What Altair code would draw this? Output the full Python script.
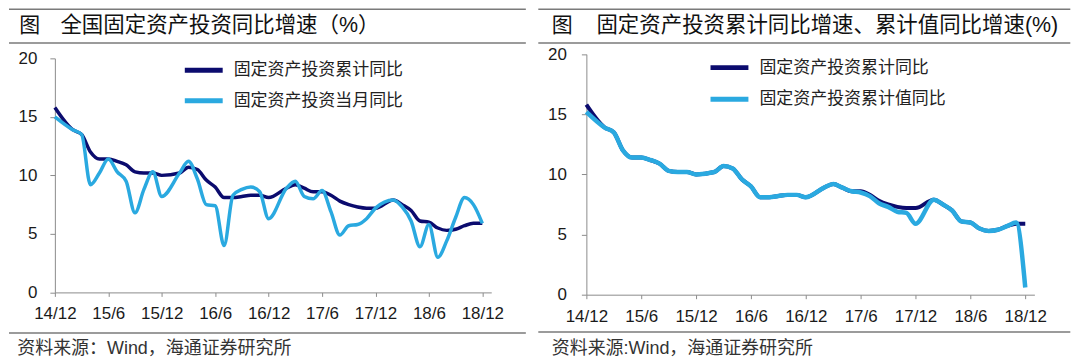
import altair as alt
import pandas as pd

# ---------------- data ----------------
# month index: 0 = 2014/12, 48 = 2018/12 (January is not published)
month_idx = [0,
             2, 3, 4, 5, 6, 7, 8, 9, 10, 11, 12,
             14, 15, 16, 17, 18, 19, 20, 21, 22, 23, 24,
             26, 27, 28, 29, 30, 31, 32, 33, 34, 35, 36,
             38, 39, 40, 41, 42, 43, 44, 45, 46, 47, 48]

cum_yoy = [15.8,
           13.9, 13.5, 12.0, 11.4, 11.4, 11.2, 10.9, 10.3, 10.2, 10.2, 10.0,
           10.2, 10.7, 10.5, 9.6, 9.0, 8.1, 8.1, 8.2, 8.3, 8.3, 8.1,
           8.9, 9.2, 8.9, 8.6, 8.6, 8.3, 7.8, 7.5, 7.3, 7.2, 7.2,
           7.9, 7.5, 7.0, 6.1, 6.0, 5.5, 5.3, 5.4, 5.7, 5.9, 5.9]

month_yoy = [15.0,
             13.9, 13.5, 9.2, 10.2, 11.4, 10.3, 9.5, 6.8, 8.8, 10.3, 8.2,
             10.2, 11.2, 9.7, 7.5, 7.4, 4.0, 8.3, 8.8, 9.0, 8.6, 6.3,
             8.9, 9.5, 8.2, 8.0, 8.7, 6.9, 4.9, 5.7, 5.8, 6.3, 7.2,
             7.9, 7.3, 6.1, 3.9, 5.8, 3.0, 4.4, 6.4, 8.1, 7.5, 5.9]

cumval_yoy = [15.2,
              13.9, 13.5, 12.0, 11.4, 11.4, 11.2, 10.9, 10.3, 10.2, 10.2, 10.0,
              10.2, 10.7, 10.5, 9.6, 9.0, 8.1, 8.1, 8.2, 8.3, 8.3, 8.1,
              8.9, 9.2, 8.9, 8.6, 8.5, 8.2, 7.6, 7.3, 6.9, 6.8, 5.9,
              7.9, 7.5, 7.0, 6.1, 6.0, 5.5, 5.3, 5.4, 5.7, 6.0, 0.6]

tick_values = [0, 6, 12, 18, 24, 30, 36, 42, 48]
tick_labels = ["14/12", "15/6", "15/12", "16/6", "16/12", "17/6", "17/12", "18/6", "18/12"]
y_ticks = [0, 5, 10, 15, 20]

name_cum = "固定资产投资累计同比"
name_month = "固定资产投资当月同比"
name_cumval = "固定资产投资累计值同比"

title_left = "全国固定资产投资同比增速（%）"
title_right = "固定资产投资累计同比增速、累计值同比增速(%)"
fig_label = "图"
source_left = "资料来源：Wind，海通证券研究所"
source_right = "资料来源:Wind，海通证券研究所"

# ---------------- style ----------------
DARK = "#0B0B6E"
LIGHT = "#2AA9E0"
RULE = "#7a7a7a"
AXIS = "#8c8c8c"
CJK = "Noto Sans CJK SC"
LATIN = "Liberation Sans, Noto Sans CJK SC"

label_expr = "[" + ",".join("'%s'" % t for t in tick_labels) + "][round(datum.value/6)]"


def single(text):
    return pd.DataFrame({"t": [text]})


def panel(dark_vals, light_vals, light_name, title, source, W, H, g):
    df_a = pd.DataFrame({"m": month_idx, "v": dark_vals, "s": name_cum})
    df_b = pd.DataFrame({"m": month_idx, "v": light_vals, "s": light_name})

    x = alt.X("m:Q",
              scale=alt.Scale(domain=[0, 49], nice=False, zero=False),
              axis=alt.Axis(values=tick_values, labelExpr=label_expr, title=None,
                            grid=False, tickSize=4, labelPadding=g["xpad"],
                            domainColor=AXIS, tickColor=AXIS, labelFont=LATIN,
                            labelFontSize=17, labelColor="#1a1a1a",
                            labelFlush=False, labelOverlap=False))
    y = alt.Y("v:Q",
              scale=alt.Scale(domain=[0, 20], nice=False, range=[H, g["ytop"]]),
              axis=alt.Axis(values=y_ticks, title=None, grid=False, tickSize=5,
                            labelPadding=g["ypad"], domainColor=AXIS, tickColor=AXIS,
                            labelFont=LATIN, labelFontSize=17, labelColor="#1a1a1a"))
    color = alt.Color("s:N",
                      scale=alt.Scale(domain=[name_cum, light_name], range=[DARK, LIGHT]),
                      legend=alt.Legend(orient="none", legendX=g["lx"], legendY=g["ly"],
                                        title=None, symbolType="M-2,0L2,0", symbolSize=361,
                                        symbolStrokeWidth=5, labelFont=CJK, labelFontSize=17,
                                        labelColor="#222222", labelOffset=18,
                                        rowPadding=g["rowpad"], padding=0, labelLimit=400))

    line_a = alt.Chart(df_a).mark_line(interpolate="monotone", strokeWidth=g["wa"]).encode(
        x=x, y=y, color=color)
    line_b = alt.Chart(df_b).mark_line(interpolate="monotone", strokeWidth=g["wb"]).encode(
        x=x, y=y, color=color)

    def rule(x0, x1, yy):
        return alt.Chart(single("r")).mark_rule(color=RULE, strokeWidth=1.5).encode(
            x=alt.value(x0), x2=alt.value(x1), y=alt.value(yy))

    def txt(text, xx, yy, size, col):
        return alt.Chart(single(text)).mark_text(
            align="left", baseline="middle", font=LATIN, fontSize=size, color=col
        ).encode(x=alt.value(xx), y=alt.value(yy), text="t:N")

    layers = [
        rule(g["r0"], g["r1"], g["rt"]),
        rule(g["r0"], g["r1"], g["rt2"]),
        rule(g["r0"], g["r1"], g["rb"]),
        txt(fig_label, g["fx"], g["ty"], 21, "#111111"),
        txt(title, g["tx"], g["ty"], 21.5, "#111111"),
        txt(source, g["sx"], g["sy"], 18, "#333333"),
        line_a,
        line_b,
    ]
    return alt.layer(*layers).properties(width=W, height=H)


# both panels share the same plot-area top (page y = 58); the right panel's
# scale range reaches a little above it
left = panel(cum_yoy, month_yoy, name_month, title_left, source_left, 437.6, 234.7,
             dict(xpad=9, ypad=13, ytop=0, lx=137.3, ly=0, rowpad=8.5, wa=3.5, wb=3.5,
                  r0=-46.0, r1=472.3, rt=-49.25, rt2=-15.5, rb=275.4,
                  fx=-35.7, tx=5.6, ty=-32, sx=-37.7, sy=291.5))

right = panel(cum_yoy, cumval_yoy, name_cumval, title_right, source_right, 449.3, 237,
              dict(xpad=10, ypad=15, ytop=-4.2, lx=131.5, ly=-2.7, rowpad=9.6, wa=4, wb=4.5,
                   r0=-48.2, r1=485.3, rt=-49.25, rt2=-15.5, rb=274.3,
                   fx=-34.7, tx=10.1, ty=-32, sx=-34.7, sy=291.5))

chart = alt.hconcat(left, right, spacing=10).resolve_scale(
    color="independent", x="independent", y="independent"
).resolve_legend(color="independent").properties(
    padding=0, background="white"
).configure_view(strokeWidth=0)

chart.save("out.html", embed_options={"renderer": "svg", "actions": False})
